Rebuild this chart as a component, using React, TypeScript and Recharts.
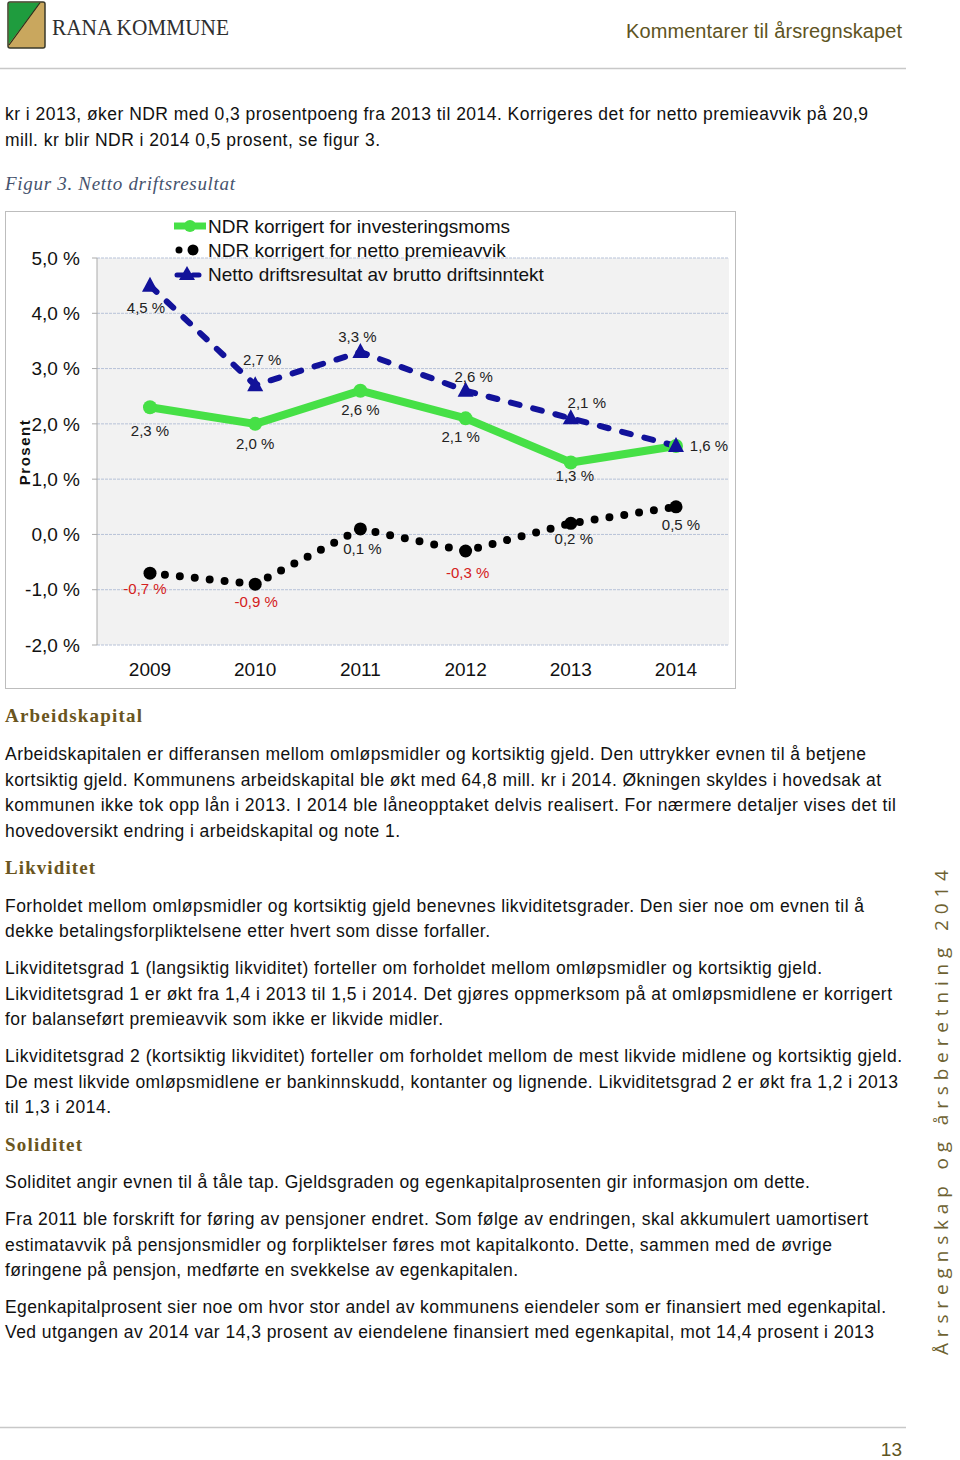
import React from 'react';
import { LineChart, Line, XAxis, YAxis, CartesianGrid, Legend, LabelList } from 'recharts';

const years = ['2009', '2010', '2011', '2012', '2013', '2014'];
const ndrInvesteringsmoms = [2.3, 2.0, 2.6, 2.1, 1.3, 1.6];
const ndrPremieavvik = [-0.7, -0.9, 0.1, -0.3, 0.2, 0.5];
const nettoDriftsresultat = [4.5, 2.7, 3.3, 2.6, 2.1, 1.6];
const yTicks = [-2, -1, 0, 1, 2, 3, 4, 5];

const seriesNames = [
  'NDR korrigert for investeringsmoms',
  'NDR korrigert for netto premieavvik',
  'Netto driftsresultat av brutto driftsinntekt',
];

const data = years.map((year, i) => ({
  year,
  moms: ndrInvesteringsmoms[i],
  premie: ndrPremieavvik[i],
  drift: nettoDriftsresultat[i],
}));

// label placement (dx, dy from the point), null = no label
const momsLabelPos = [[0, 23], [0, 20], [0, 19], [-5, 18], [4, 13], null];
const premieLabelPos = [[-5, 15], [1, 17], [2, 20], [2, 21], [3, 15], [5, 18]];
const driftLabelPos = [[-4, 22], [7, -26], [-3, -15], [8, -14], [16, -16], [33, 0]];

const GREEN = '#46e046';
const NAVY = '#12129a';
const RED = '#d42020';
const OLIVE = '#5e5422';
const HEAD = '#6a5520';

const pct = (v: number) => v.toFixed(1).replace('.', ',') + ' %';

const makeLabel = (pos: (number[] | null)[], redNeg: boolean) => (p: any) => {
  const vb = p.viewBox || {};
  const x = p.x ?? vb.x;
  const y = p.y ?? vb.y;
  const i = p.index ?? 0;
  const o = pos[i];
  if (!o || x == null || y == null) return null;
  const v = Number(p.value);
  return (
    <text
      key={'l' + i}
      x={x + o[0]}
      y={y + o[1]}
      textAnchor="middle"
      dominantBaseline="central"
      fontSize={15}
      fill={redNeg && v < 0 ? RED : '#222'}
    >
      {pct(v)}
    </text>
  );
};

const triangleDot = (p: any) => {
  const { cx, cy, index } = p;
  if (cx == null || cy == null) return <g key={'t' + index} />;
  return (
    <polygon
      key={'t' + index}
      points={`${cx},${cy - 9} ${cx + 8},${cy + 6} ${cx - 8},${cy + 6}`}
      fill={NAVY}
    />
  );
};

const LegendBox = () => (
  <svg width={430} height={76} style={{ display: 'block' }}>
    <g>
      <line x1={8} y1={14} x2={40} y2={14} stroke={GREEN} strokeWidth={7} />
      <circle cx={24} cy={14} r={6} fill={GREEN} />
      <text x={42} y={14} dominantBaseline="central" fontSize={19} fill="#111">{seriesNames[0]}</text>
    </g>
    <g>
      <circle cx={13} cy={38} r={3.5} fill="#000" />
      <circle cx={27} cy={38} r={5.5} fill="#000" />
      <text x={42} y={38} dominantBaseline="central" fontSize={19} fill="#111">{seriesNames[1]}</text>
    </g>
    <g>
      <line x1={11} y1={63} x2={37} y2={63} stroke={NAVY} strokeWidth={5} strokeLinecap="round" strokeDasharray="6 10" />
      <polygon points="21,54 29,68 13,68" fill={NAVY} />
      <text x={42} y={62} dominantBaseline="central" fontSize={19} fill="#111">{seriesNames[2]}</text>
    </g>
  </svg>
);

const Chart = () => (
  <LineChart
    width={729}
    height={476}
    data={data}
    margin={{ top: 46, right: 6, left: 0, bottom: 7 }}
    style={{ fontFamily: '"Liberation Sans", Arial, sans-serif' }}
  >
    <CartesianGrid vertical={false} fill="#f2f2f2" stroke="#b7c2d8" strokeDasharray="3 1" />
    <XAxis
      dataKey="year"
      axisLine={false}
      tickLine={false}
      tickSize={0}
      tickMargin={18}
      height={36}
      padding={{ left: 53, right: 53 }}
      tick={{ fontSize: 19, fill: '#111' }}
    />
    <YAxis
      width={91}
      domain={[-2, 5]}
      ticks={yTicks}
      interval={0}
      tickFormatter={(v: number) => pct(v)}
      axisLine={{ stroke: '#aaaaaa' }}
      tickLine={{ stroke: '#aaaaaa' }}
      tickSize={5}
      tickMargin={12}
      tick={{ fontSize: 19, fill: '#111' }}
      label={{
        content: () => (
          <text
            x={18}
            y={240}
            transform="rotate(-90 18 240)"
            textAnchor="middle"
            dominantBaseline="central"
            fontSize={15}
            fontWeight="bold"
            letterSpacing={1.5}
            fill="#111"
          >
            Prosent
          </text>
        ),
      }}
    />
    <Legend
      layout="vertical"
      verticalAlign="middle"
      align="center"
      wrapperStyle={{ top: 0, left: 160, width: 430, height: 76 }}
      content={() => <LegendBox />}
    />
    <Line
      dataKey="premie"
      name={seriesNames[1]}
      stroke="#000"
      strokeWidth={8}
      strokeDasharray="0 15"
      strokeLinecap="round"
      dot={{ r: 6.5, fill: '#000', stroke: 'none' }}
      isAnimationActive={false}
    >
      <LabelList dataKey="premie" content={makeLabel(premieLabelPos, true)} />
    </Line>
    <Line
      dataKey="moms"
      name={seriesNames[0]}
      stroke={GREEN}
      strokeWidth={8}
      dot={{ r: 7, fill: GREEN, stroke: 'none' }}
      isAnimationActive={false}
    >
      <LabelList dataKey="moms" content={makeLabel(momsLabelPos, false)} />
    </Line>
    <Line
      dataKey="drift"
      name={seriesNames[2]}
      stroke={NAVY}
      strokeWidth={6}
      strokeDasharray="9 14"
      strokeLinecap="round"
      dot={triangleDot}
      isAnimationActive={false}
    >
      <LabelList dataKey="drift" content={makeLabel(driftLabelPos, false)} />
    </Line>
  </LineChart>
);

// page text: [text, center y, right edge]
const bodyLines: [string, number, number][] = [
  ['kr i 2013, øker NDR med 0,3 prosentpoeng fra 2013 til 2014. Korrigeres det for netto premieavvik på 20,9', 114, 868],
  ['mill. kr blir NDR i 2014 0,5 prosent, se figur 3.', 140, 380],
  ['Arbeidskapitalen er differansen mellom omløpsmidler og kortsiktig gjeld. Den uttrykker evnen til å betjene', 754, 866],
  ['kortsiktig gjeld. Kommunens arbeidskapital ble økt med 64,8 mill. kr i 2014. Økningen skyldes i hovedsak at', 780, 881],
  ['kommunen ikke tok opp lån i 2013. I 2014 ble låneopptaket delvis realisert. For nærmere detaljer vises det til', 805, 896],
  ['hovedoversikt endring i arbeidskapital og note 1.', 831, 400],
  ['Forholdet mellom omløpsmidler og kortsiktig gjeld benevnes likviditetsgrader. Den sier noe om evnen til å', 906, 864],
  ['dekke betalingsforpliktelsene etter hvert som disse forfaller.', 931, 490],
  ['Likviditetsgrad 1 (langsiktig likviditet) forteller om forholdet mellom omløpsmidler og kortsiktig gjeld.', 968, 822],
  ['Likviditetsgrad 1 er økt fra 1,4 i 2013 til 1,5 i 2014. Det gjøres oppmerksom på at omløpsmidlene er korrigert', 994, 892],
  ['for balanseført premieavvik som ikke er likvide midler.', 1019, 443],
  ['Likviditetsgrad 2 (kortsiktig likviditet) forteller om forholdet mellom de mest likvide midlene og kortsiktig gjeld.', 1056, 902],
  ['De mest likvide omløpsmidlene er bankinnskudd, kontanter og lignende. Likviditetsgrad 2 er økt fra 1,2 i 2013', 1082, 898],
  ['til 1,3 i 2014.', 1107, 111],
  ['Soliditet angir evnen til å tåle tap. Gjeldsgraden og egenkapitalprosenten gir informasjon om dette.', 1182, 810],
  ['Fra 2011 ble forskrift for føring av pensjoner endret. Som følge av endringen, skal akkumulert uamortisert', 1219, 868],
  ['estimatavvik på pensjonsmidler og forpliktelser føres mot kapitalkonto. Dette, sammen med de øvrige', 1245, 832],
  ['føringene på pensjon, medførte en svekkelse av egenkapitalen.', 1270, 518],
  ['Egenkapitalprosent sier noe om hvor stor andel av kommunens eiendeler som er finansiert med egenkapital.', 1307, 886],
  ['Ved utgangen av 2014 var 14,3 prosent av eiendelene finansiert med egenkapital, mot 14,4 prosent i 2013', 1332, 874],
];

const headings: [string, number, number][] = [
  ['Arbeidskapital', 716, 142],
  ['Likviditet', 868, 95],
  ['Soliditet', 1145, 82],
];

const PageText = () => (
  <svg width={960} height={1460} style={{ position: 'absolute', left: 0, top: 0 }}>
    {/* logo */}
    <rect x={8} y={2} width={37} height={46} rx={2} fill="#c9a75e" stroke="#3a3a2a" strokeWidth={1.5} />
    <polygon points="8.75,2.75 40,2.75 8.75,44" fill="#1f9c3e" />
    <line x1={40} y1={2.75} x2={9} y2={45} stroke="#2a2a1a" strokeWidth={1.2} />
    <text
      x={52}
      y={35}
      fontFamily='"Liberation Serif", serif'
      fontSize={24}
      fill="#2f2f2f"
      textLength={177}
      lengthAdjust="spacingAndGlyphs"
    >
      RANA KOMMUNE
    </text>
    <text x={902} y={38} textAnchor="end" fontFamily='"Liberation Sans", Arial, sans-serif' fontSize={20} fill={OLIVE} textLength={276}>
      Kommentarer til årsregnskapet
    </text>
    <line x1={0} y1={68.5} x2={906} y2={68.5} stroke="#c8c8c8" strokeWidth={1.5} />

    {bodyLines.map(([t, cy, right], i) => (
      <text
        key={'b' + i}
        x={5}
        y={cy + 6}
        fontFamily='"Liberation Sans", Arial, sans-serif'
        fontSize={17.5}
        fill="#111"
        textLength={right - 5}
      >
        {t}
      </text>
    ))}

    <text x={5} y={190} fontFamily='"Liberation Serif", serif' fontStyle="italic" fontSize={19} fill="#46536e" textLength={230}>
      Figur 3. Netto driftsresultat
    </text>

    {headings.map(([t, cy, right], i) => (
      <text
        key={'h' + i}
        x={5}
        y={cy + 6}
        fontFamily='"Liberation Serif", serif'
        fontWeight="bold"
        fontSize={19}
        fill={HEAD}
        textLength={right - 5}
      >
        {t}
      </text>
    ))}

    <text
      x={948}
      y={1355}
      transform="rotate(-90 948 1355)"
      fontFamily='"Open Sans", sans-serif'
      fontSize={19}
      fill="#6e6232"
      textLength={485}
    >
      Årsregnskap og årsberetning 2014
    </text>

    <line x1={0} y1={1427.5} x2={906} y2={1427.5} stroke="#c8c8c8" strokeWidth={1.5} />
    <text x={902} y={1456} textAnchor="end" fontFamily='"Liberation Sans", Arial, sans-serif' fontSize={19} fill={OLIVE}>
      13
    </text>
  </svg>
);

export default function App() {
  return (
    <div style={{ position: 'absolute', left: 0, top: 0, width: 960, height: 1460, background: '#fff', overflow: 'hidden' }}>
      <PageText />
      <div
        style={{
          position: 'absolute',
          left: 5,
          top: 211,
          width: 729,
          height: 476,
          border: '1px solid #bdbdbd',
          background: '#fff',
        }}
      >
        <Chart />
      </div>
    </div>
  );
}
